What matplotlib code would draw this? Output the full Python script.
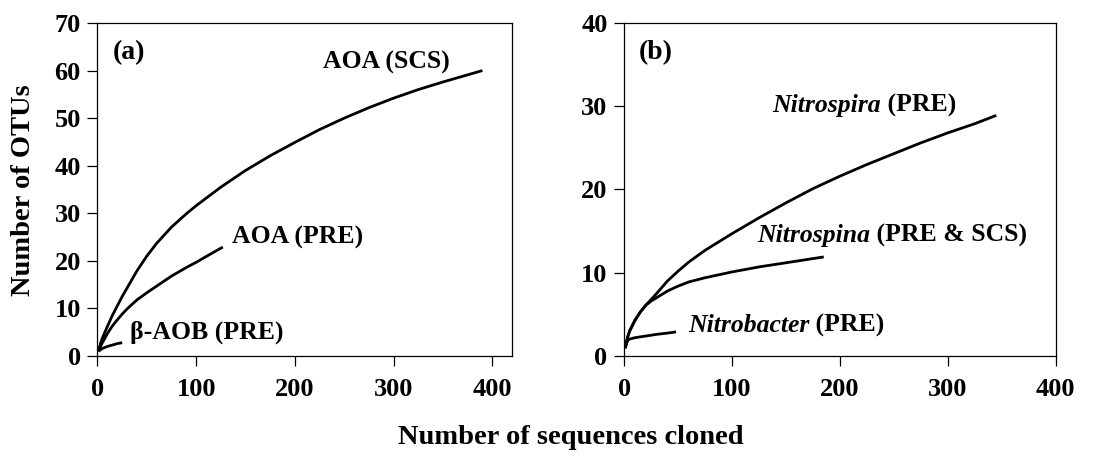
import matplotlib
matplotlib.use("Agg")
import matplotlib.pyplot as plt

plt.rcParams['font.family'] = ['Liberation Serif', 'DejaVu Serif']
plt.rcParams['font.weight'] = 'bold'

# Panel (a) data
aoa_scs_x = [1, 3, 5, 10, 15, 20, 25, 30, 40, 50, 60, 75, 90, 100, 125, 150, 175, 200, 225, 250, 275, 300, 325, 350, 375, 390]
aoa_scs_y = [1, 2.6, 3.8, 6.2, 8.5, 10.5, 12.5, 14.3, 17.9, 21.0, 23.7, 27.1, 29.9, 31.6, 35.5, 39.0, 42.1, 44.9, 47.6, 50.0, 52.2, 54.2, 56.0, 57.6, 59.1, 60.0]
aoa_pre_x = [1, 3, 5, 10, 15, 20, 25, 30, 40, 50, 60, 75, 90, 100, 110, 127]
aoa_pre_y = [1, 2.0, 2.8, 4.7, 6.3, 7.6, 8.8, 9.9, 11.8, 13.3, 14.7, 16.8, 18.6, 19.7, 20.9, 22.9]
baob_x = [1, 3, 5, 10, 15, 20, 25]
baob_y = [1, 1.3, 1.6, 2.0, 2.3, 2.6, 2.8]

# Panel (b) data
nspira_x = [1, 3, 5, 10, 15, 20, 25, 30, 40, 50, 60, 75, 100, 125, 150, 175, 200, 225, 250, 275, 300, 325, 345]
nspira_y = [1, 2.2, 3.0, 4.3, 5.3, 6.1, 6.8, 7.5, 9.0, 10.2, 11.3, 12.7, 14.7, 16.6, 18.4, 20.1, 21.6, 23.0, 24.3, 25.6, 26.8, 27.9, 28.9]
nspina_x = [1, 3, 5, 10, 15, 20, 25, 30, 40, 50, 60, 75, 100, 125, 150, 175, 185]
nspina_y = [1, 2.2, 3.0, 4.3, 5.3, 6.1, 6.6, 7.0, 7.8, 8.4, 8.9, 9.4, 10.1, 10.7, 11.2, 11.7, 11.9]
nbact_x = [1, 2, 4, 10, 20, 30, 40, 48]
nbact_y = [0.9, 1.5, 2.0, 2.2, 2.4, 2.6, 2.75, 2.9]

fig = plt.figure(figsize=(10.99, 4.57), dpi=100)
axa = fig.add_axes([0.0887, 0.221, 0.3772, 0.7287])
axb = fig.add_axes([0.568, 0.221, 0.3925, 0.7287])

lw = 2.0
for ax, xs, ys in [(axa, aoa_scs_x, aoa_scs_y), (axa, aoa_pre_x, aoa_pre_y),
                   (axa, baob_x, baob_y), (axb, nspira_x, nspira_y),
                   (axb, nspina_x, nspina_y), (axb, nbact_x, nbact_y)]:
    ax.plot(xs, ys, color='black', lw=lw, solid_capstyle='butt',
            solid_joinstyle='round')

axa.set_xlim(0, 420)
axa.set_ylim(0, 70)
axa.set_xticks([0, 100, 200, 300, 400])
axa.set_yticks(range(0, 71, 10))
axb.set_xlim(0, 400)
axb.set_ylim(0, 40)
axb.set_xticks([0, 100, 200, 300, 400])
axb.set_yticks(range(0, 41, 10))

for ax in (axa, axb):
    for s in ax.spines.values():
        s.set_linewidth(0.9)
    ax.tick_params(direction='out', length=7, width=0.9, labelsize=19, pad=5)
    ax.tick_params(axis='x', pad=9)
    for lab in ax.get_xticklabels() + ax.get_yticklabels():
        lab.set_fontweight('bold')

fs = 18.5
axa.text(15.7, 63.7, '(a)', fontsize=20, va='center', ha='left')
axa.text(228, 61.8, 'AOA (SCS)', fontsize=fs, va='center', ha='left')
axa.text(136, 25, 'AOA (PRE)', fontsize=fs, va='center', ha='left')
axa.text(33, 5.0, 'β-AOB (PRE)', fontsize=fs, va='center', ha='left')

axb.text(13.6, 36.4, '(b)', fontsize=20, va='center', ha='left')

def mixed(ax, x, y, it, rest):
    t = ax.text(x, y, it, fontsize=fs, style='italic', va='center', ha='left')
    ax.annotate(rest, xy=(1, 0), xycoords=t, va='bottom', ha='left',
                fontsize=fs, fontweight='bold')

mixed(axb, 137, 30.1, 'Nitrospira', ' (PRE)')
mixed(axb, 123, 14.5, 'Nitrospina', ' (PRE & SCS)')
mixed(axb, 59, 3.7, 'Nitrobacter', ' (PRE)')

fig.text(0.021, 0.585, 'Number of OTUs', fontsize=20.5, rotation=90,
         ha='center', va='center', fontweight='bold')
fig.text(0.519, 0.042, 'Number of sequences cloned', fontsize=20.5,
         ha='center', va='center', fontweight='bold')

fig.savefig('out.png', dpi=100)
